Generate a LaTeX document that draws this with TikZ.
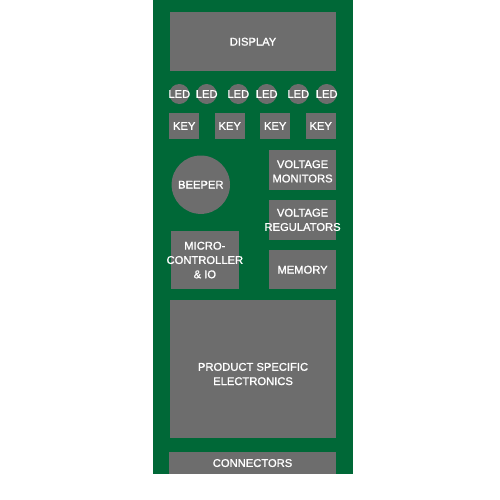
\documentclass[tikz,border=0pt]{standalone}
\usepackage{fontspec}
\setmainfont[FakeBold=1.2]{Liberation Sans}
\usepackage{xcolor}
\definecolor{pcbgreen}{RGB}{0,104,55}
\definecolor{partgray}{RGB}{109,109,109}

\begin{document}
\begin{tikzpicture}[
    x=1pt, y=-1pt,
    part/.style    = {fill=partgray, draw=none, inner sep=0pt},
    block/.style   = {part, rectangle, anchor=north west},
    ledcirc/.style = {part, circle, minimum size=20pt},
    keybox/.style  = {block, minimum width=30pt, minimum height=25pt},
    txt/.style     = {text=white, align=center, inner sep=0pt, font=\fontsize{11.2}{14.3}\selectfont}
]
\useasboundingbox (0,0) rectangle (500,500);

% Board
\fill [pcbgreen] (152.5,0) rectangle (353,474);

% Display
\node (display) [block, minimum width=165.7pt, minimum height=58.4pt] at (170,12.3) {};
\node [txt] at (display) {DISPLAY};

% LEDs
\foreach \i/\x in {1/179.3, 2/206.7, 3/238.3, 4/266.7, 5/298.3, 6/326.7} {
    \node (led\i) [ledcirc] at (\x,94) {};
    \node [txt] at (led\i) {LED};
}

% Keys
\foreach \i/\x in {1/169, 2/214.5, 3/260, 4/305.5} {
    \node (key\i) [keybox] at (\x,113.3) {};
    \node [txt] at (key\i) {KEY};
}

% Beeper
\node (beeper) [part, circle, minimum size=58.4pt] at (200.8,184.7) {};
\node [txt] at (beeper) {BEEPER};

% Right column
\node (monitors)   [block, minimum width=66.7pt, minimum height=39.3pt] at (269,150) {};
\node (regulators) [block, minimum width=66.7pt, minimum height=39.3pt] at (269,200) {};
\node (memory)     [block, minimum width=66.7pt, minimum height=39pt]   at (269,250) {};
\node [txt] at ([yshift=-1.5pt]monitors.center) {VOLTAGE\\MONITORS};
\node [txt] at (regulators) {VOLTAGE\\REGULATORS};
\node [txt] at (memory)     {MEMORY};

% Microcontroller
\node (mcu) [block, minimum width=67.3pt, minimum height=58.3pt] at (171,230.7) {};
\node [txt] at (mcu) {MICRO-\\CONTROLLER\\\& IO};

% Product specific
\node (product) [block, minimum width=165.7pt, minimum height=137.7pt] at (170,300) {};
\node [txt] at ([yshift=-5pt]product.center) {PRODUCT SPECIFIC\\ELECTRONICS};

% Connectors
\node (connectors) [block, minimum width=166.7pt, minimum height=22.3pt] at (169,451.7) {};
\node [txt] at (connectors) {CONNECTORS};

\end{tikzpicture}
\end{document}
